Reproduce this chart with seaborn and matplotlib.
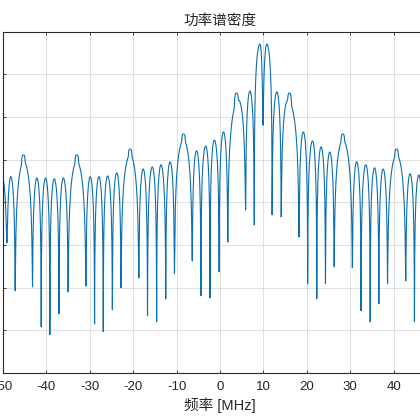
import numpy as np
import pandas as pd
import seaborn as sns
from matplotlib import pyplot as plt

# spectral nulls (MHz, dB)
null_freq = [-51.1, -49.1, -47.2, -43.2, -41.2, -39.2, -37.1, -35.0, -30.9, -28.9, -26.9,
             -24.8, -22.8, -18.7, -16.7, -14.6, -12.5, -10.5, -6.4, -4.4, -2.3, -0.2, 1.8,
             5.9, 7.9, 9.9, 12.0, 14.1, 18.2, 20.2, 22.3, 24.3, 26.3, 30.5, 32.5, 34.6,
             36.6, 38.6, 42.8, 44.8, 46.8, 48.8, 50.9]
null_db = [-71.1, -69.5, -80.7, -79.8, -89.2, -91.0, -86.1, -81.0, -79.6, -88.5, -90.3,
           -85.2, -80.0, -77.7, -86.6, -88.0, -82.6, -76.7, -73.7, -81.9, -82.4, -76.3, -69.3,
           -61.8, -65.3, -41.9, -62.9, -63.4, -68.1, -79.1, -82.6, -79.1, -75.1, -75.3, -85.4,
           -88.0, -83.8, -79.1, -78.4, -88.0, -82.8, -78.2, -73.5]

# lobe tops between consecutive nulls (MHz, dB)
lobe_freq = [-50.1, -48.2, -45.2, -42.2, -40.2, -38.2, -36.1, -33.0, -29.9, -27.9, -25.9,
             -23.8, -20.7, -17.7, -15.6, -13.6, -11.5, -8.4, -5.4, -3.3, -1.3, 0.8, 4.3,
             6.9, 9.2, 10.8, 13.1, 15.6, 19.2, 21.3, 23.3, 25.3, 28.3, 31.5, 33.6, 35.6,
             37.6, 40.7, 43.8, 45.8, 47.8, 49.8]
lobe_db = [-54.7, -54.0, -50.5, -54.3, -54.3, -54.5, -54.3, -50.5, -54.0, -54.0, -53.8,
           -53.1, -48.9, -52.2, -51.7, -51.2, -50.5, -45.4, -47.9, -46.8, -45.4, -43.5, -36.1,
           -33.9, -22.9, -22.9, -34.1, -36.1, -43.5, -45.6, -47.0, -48.2, -45.4, -50.5, -51.2,
           -51.9, -52.2, -48.9, -53.3, -53.6, -54.0, -54.3]

# narrow spectral lines sitting on the wide lobes (MHz, dB)
line_freq = [-45.3, -33.0, -20.7, -8.4, 3.8, 16.0, 28.3, 40.7]
line_db = [-48.9, -48.9, -47.5, -44.0, -34.4, -34.4, -44.0, -47.5]

xticks = [-50, -40, -30, -20, -10, 0, 10, 20, 30, 40, 50]
yticks = [-100, -90, -80, -70, -60, -50, -40, -30, -20]


def build_psd():
    nf = np.array(null_freq)
    nd = np.array(null_db)
    lf = np.array(lobe_freq)
    ld = np.array(lobe_db)
    freq = np.union1d(np.linspace(nf[0], nf[-1], 8001), nf)
    idx = np.clip(np.searchsorted(nf, freq, side='right') - 1, 0, len(lf) - 1)
    a, b, p, h = nf[idx], nf[idx + 1], lf[idx], ld[idx]
    t = np.where(freq <= p, 0.5 * (freq - a) / (p - a), 0.5 + 0.5 * (freq - p) / (b - p))
    arch = h + 20 * np.log10(np.maximum(np.sin(np.pi * t), 1e-9))
    floor = np.interp(freq, nf, nd)
    psd = 10 * np.log10(10 ** (arch / 10) + 10 ** (floor / 10))
    for c, s in zip(line_freq, line_db):
        psd = np.maximum(psd, s - 4.34 * ((freq - c) / 0.55) ** 4)
    return pd.DataFrame({'freq': freq, 'psd': psd})


sns.set_theme(style="ticks")
plt.rcParams['font.family'] = ['Liberation Sans', 'Noto Sans CJK SC', 'DejaVu Sans']
plt.rcParams['axes.unicode_minus'] = False

df = build_psd()

fig = plt.figure(figsize=(4.2, 4.2), dpi=100)
ax = fig.add_axes([3 / 420, 47 / 420, 434 / 420, 341.3 / 420])
sns.lineplot(data=df, x='freq', y='psd', ax=ax, color='#0a6fb0', linewidth=0.8,
             estimator=None, sort=False)

ax.set_xlim(-50, 50)
ax.set_ylim(-100, -20)
ax.set_xticks(xticks)
ax.set_yticks(yticks)
ax.grid(True, color='#d9d9d9', linewidth=0.6)
ax.set_axisbelow(True)
for s in ax.spines.values():
    s.set_color('#262626')
    s.set_linewidth(0.8)
ax.tick_params(direction='in', length=2, width=0.6, top=True, right=True,
               labelsize=9.5, colors='#262626', pad=6)

ax.set_title('功率谱密度', fontsize=10.5, color='#262626', pad=5,
             family=['Noto Sans CJK SC', 'DejaVu Sans'])
ax.set_xlabel('频率 [MHz]', fontsize=10.5, color='#262626', labelpad=3)
ax.set_ylabel('')

fig.savefig('out.png', dpi=100)
